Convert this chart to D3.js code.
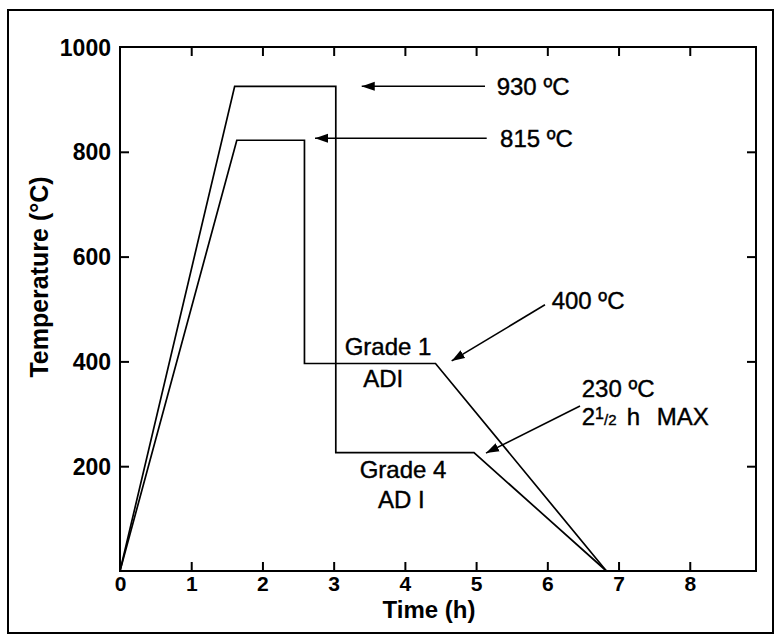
<!DOCTYPE html>
<html>
<head>
<meta charset="utf-8">
<script src="https://cdn.jsdelivr.net/npm/d3@7"></script>
<style>
  html, body { margin: 0; padding: 0; background: #fff; }
  svg { display: block; font-family: "Liberation Sans", Arial, Helvetica, sans-serif; }
</style>
</head>
<body>
<svg id="chart" width="776" height="635"></svg>
<script>
// ---- Data ----
const xTicks = [0, 1, 2, 3, 4, 5, 6, 7, 8];
const yTicks = [200, 400, 600, 800, 1000];
const xLabel = "Time (h)";
const yLabel = "Temperature (\u00B0C)";

// Grade 4 ADI cycle: austenitize ~930 °C, quench to 230 °C
const grade4Time = [0, 1.61, 3.03, 3.03, 4.97, 6.83];
const grade4Temp = [0, 925, 925, 226, 226, 0];
// Grade 1 ADI cycle: austenitize ~815 °C, quench to 400 °C
const grade1Time = [0, 1.64, 2.59, 2.59, 4.43, 6.83];
const grade1Temp = [0, 822, 822, 396, 396, 0];

// Annotation arrows [fromTime, fromTemp, toTime, toTemp]
const arrows = [
  [5.125, 925, 3.394, 925],
  [5.149, 826, 2.738, 826],
  [5.967, 508, 4.657, 401],
  [6.459, 315, 5.139, 225]
];
// Annotation texts [text, time, temp, anchor]
const labels = [
  ["930 \u00BAC", 5.289, 908, "start"],
  ["815 \u00BAC", 5.336, 810, "start"],
  ["400 \u00BAC", 6.061, 500, "start"],
  ["230 \u00BAC", 6.483, 333, "start"],
  ["Grade 1", 3.763, 412, "middle"],
  ["ADI", 3.697, 352, "middle"],
  ["Grade 4", 3.974, 177, "middle"],
  ["AD I", 3.952, 120, "middle"]
];
const maxNote = { time: 6.483, temp: 279 };

// ---- Layout ----
const svg = d3.select("#chart");
const L = 120, R = 756, T = 47, B = 571;
const x = d3.scaleLinear().domain([0, 8.93]).range([L, R]);
const y = d3.scaleLinear().domain([0, 1000]).range([B, T]);

// outer frame
svg.append("rect").attr("x", 8).attr("y", 10).attr("width", 765).attr("height", 623)
  .attr("fill", "none").attr("stroke", "#000").attr("stroke-width", 2);

// arrow marker
svg.append("defs").append("marker")
  .attr("id", "ah").attr("viewBox", "0 -5 13 10")
  .attr("refX", 13).attr("refY", 0)
  .attr("markerWidth", 13).attr("markerHeight", 10)
  .attr("markerUnits", "userSpaceOnUse").attr("orient", "auto")
  .append("path").attr("d", "M0,-4.5L13,0L0,4.5Z").attr("fill", "#000");

const tickLen = 9;
const styleAxis = g => {
  g.select(".domain").remove();
  g.selectAll(".tick line").attr("stroke", "#000").attr("stroke-width", 2);
};

// bottom axis
const gx = svg.append("g").attr("transform", `translate(0,${B})`)
  .call(d3.axisBottom(x).tickValues(xTicks).tickSizeInner(-tickLen).tickSizeOuter(0).tickPadding(5).tickFormat(d3.format("d")))
  .call(styleAxis);
gx.selectAll(".tick text").attr("fill", "#000").attr("font-size", 21).attr("font-weight", "bold")
  .attr("font-family", "Liberation Sans, Arial, sans-serif");
gx.selectAll(".tick").filter(d => d === 0).select("line").remove();

// top axis (ticks only)
svg.append("g").attr("transform", `translate(0,${T})`)
  .call(d3.axisTop(x).tickValues(xTicks.filter(d => d > 0)).tickSizeInner(-tickLen).tickSizeOuter(0).tickFormat(""))
  .call(styleAxis);

// left axis
const gy = svg.append("g").attr("transform", `translate(${L},0)`)
  .call(d3.axisLeft(y).tickValues(yTicks).tickSizeInner(-tickLen).tickSizeOuter(0).tickPadding(9).tickFormat(d3.format("d")))
  .call(styleAxis);
gy.selectAll(".tick text").attr("fill", "#000").attr("font-size", 23).attr("font-weight", "bold")
  .attr("dy", "0.35em").attr("font-family", "Liberation Sans, Arial, sans-serif");
gy.selectAll(".tick").filter(d => d === 1000).select("line").remove();

// right axis (ticks only)
svg.append("g").attr("transform", `translate(${R},0)`)
  .call(d3.axisRight(y).tickValues(yTicks.filter(d => d < 1000)).tickSizeInner(-tickLen).tickSizeOuter(0).tickFormat(""))
  .call(styleAxis);

// plot frame
svg.append("rect").attr("x", L).attr("y", T).attr("width", R - L).attr("height", B - T)
  .attr("fill", "none").attr("stroke", "#000").attr("stroke-width", 2);

// axis titles
svg.append("text").attr("x", 429).attr("y", 618).attr("text-anchor", "middle")
  .attr("font-size", 24).attr("font-weight", "bold").text(xLabel);
svg.append("text").attr("transform", "translate(47.5,277) rotate(-90)").attr("text-anchor", "middle")
  .attr("font-size", 25).attr("font-weight", "bold").text(yLabel);

// data lines
const line = d3.line().x(d => x(d[0])).y(d => y(d[1]));
[[grade4Time, grade4Temp], [grade1Time, grade1Temp]].forEach(([t, v]) => {
  svg.append("path").datum(t.map((ti, i) => [ti, v[i]]))
    .attr("d", line).attr("fill", "none").attr("stroke", "#000")
    .attr("stroke-width", 1.7).attr("stroke-linejoin", "miter");
});

// arrows
svg.selectAll("line.arrow").data(arrows).enter().append("line").attr("class", "arrow")
  .attr("x1", d => x(d[0])).attr("y1", d => y(d[1]))
  .attr("x2", d => x(d[2])).attr("y2", d => y(d[3]))
  .attr("stroke", "#000").attr("stroke-width", 1.6).attr("marker-end", "url(#ah)");

// annotation labels
svg.selectAll("text.note").data(labels).enter().append("text").attr("class", "note")
  .attr("x", d => x(d[1])).attr("y", d => y(d[2])).attr("text-anchor", d => d[3])
  .attr("font-size", 24).attr("fill", "#000").attr("stroke", "#000").attr("stroke-width", 0.4)
  .text(d => d[0]);

// "2 1/2 h   MAX"
const mx = x(maxNote.time), my = y(maxNote.temp);
const mt = svg.append("text").attr("x", mx).attr("y", my).attr("font-size", 24)
  .attr("fill", "#000").attr("stroke", "#000").attr("stroke-width", 0.4);
mt.append("tspan").text("2");
mt.append("tspan").attr("font-size", 16).attr("dy", -6).text("1");
mt.append("tspan").attr("font-size", 15).attr("dy", 6).text("/2");
svg.append("text").attr("x", mx + 45).attr("y", my).attr("font-size", 24)
  .attr("fill", "#000").attr("stroke", "#000").attr("stroke-width", 0.4).text("h");
svg.append("text").attr("x", mx + 75).attr("y", my).attr("font-size", 24)
  .attr("fill", "#000").attr("stroke", "#000").attr("stroke-width", 0.4).text("MAX");
</script>
</body>
</html>
